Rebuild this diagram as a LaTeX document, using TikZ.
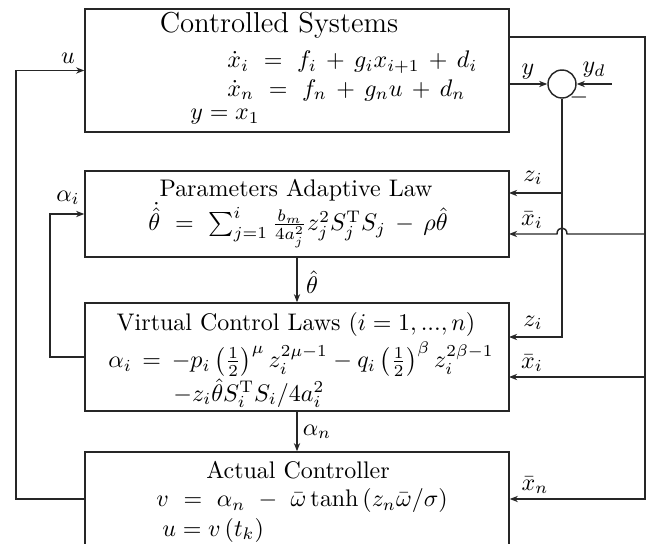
\documentclass[tikz,border=0pt]{standalone}
\usepackage{amsmath}
\usetikzlibrary{arrows.meta}
\begin{document}
\begin{tikzpicture}[x=0.4167pt,y=-0.4167pt,
  box/.style={draw=black!85, line width=0.6pt, minimum width=424*0.4167pt, inner sep=0pt},
  wire/.style={draw=black!85, line width=0.6pt},
  arr/.style={wire, -{Stealth[length=3.4pt,width=2.6pt]}},
  txt/.style={inner sep=0pt},
  lbl/.style={inner sep=0pt}]
\useasboundingbox (0,0) rectangle (654,544);

% blocks
\node[box, minimum height=123*0.4167pt] (sys) at (297,70.5) {};
\node[box, minimum height=86*0.4167pt]  (pal) at (297,214) {};
\node[box, minimum height=108*0.4167pt] (vcl) at (297,357) {};
\node[box, minimum height=104*0.4167pt] (act) at (297,504) {};
\node[draw=black!85, line width=0.6pt, circle, minimum size=28*0.4167pt, inner sep=0pt] (sum) at (562,84) {};

% block contents
\node[txt] (sysT) at (279,25) {\large Controlled Systems};
\node[txt, anchor=west] (sysA) at (227,62) {$\dot x_i \ =\ f_i \,+\, g_i x_{i+1} \,+\, d_i$};
\node[txt, anchor=west] (sysB) at (227,90) {$\dot x_n \ =\ f_n \,+\, g_n u \,+\, d_n$};
\node[txt, anchor=west] (sysC) at (190,117) {$y = x_1$};

\node[txt] (palT) at (296,190) {Parameters Adaptive Law};
\node[txt, anchor=west] (palA) at (148,225) {$\dot{\hat\theta}\ =\ \sum_{j=1}^{i}\frac{b_m}{4a_j^2}z_j^2S_j^{\mathrm{T}}S_j\,-\,\rho\hat\theta$};

\node[txt] (vclT) at (296,324) {Virtual Control Laws $(i=1,...,n)$};
\node[txt, anchor=west] (vclA) at (108,359) {$\alpha_i\,=\,-p_i\left(\frac{1}{2}\right)^{\mu}z_i^{2\mu-1}-q_i\left(\frac{1}{2}\right)^{\beta}z_i^{2\beta-1}$};
\node[txt, anchor=west] (vclB) at (173,393) {$-z_i\hat\theta S_i^{\mathrm{T}}S_i/4a_i^2$};

\node[txt] (actT) at (298,470) {Actual Controller};
\node[txt, anchor=west] (actA) at (156,501) {$v\ =\ \alpha_n\ -\ \bar\omega\tanh\left(z_n\bar\omega/\sigma\right)$};
\node[txt, anchor=west] (actB) at (162,530) {$u=v\left(t_k\right)$};

% free ends and bends of the connectors
\coordinate (uc) at (16,0);
\coordinate (ac) at (50,0);
\coordinate (s1) at (509,37);
\coordinate (rt) at (645,37);
\coordinate (rb) at (645,499);
\coordinate (ul) at (85,499);
\coordinate (r2) at (645,234);
\coordinate (p2) at (509,234);
\coordinate (r3) at (645,377);
\coordinate (p3) at (509,377);
\coordinate (yo) at (509,84);
\coordinate (yd) at (612,84);
\coordinate (zb) at (562,337);
\coordinate (z3) at (509,337);
\coordinate (zm) at (562,193);
\coordinate (z2) at (509,193);

% control signal u back to the plant
\draw[arr] (ul) -- (ul -| uc) -- (uc |- sys.west) -- (sys.west);
% virtual control alpha_i to the adaptive law
\draw[arr] (vcl.west) -- (vcl.west -| ac) -- (ac |- pal.west) -- (pal.west);
% state feedback bus on the right
\draw[arr] (s1) -- (rt) -- (rb) -- (rb -| act.east);
\draw[arr] (r2) -- (567,234) .. controls (567,226) and (557,226) .. (557,234) -- (p2);
\draw[arr] (r3) -- (p3);
% tracking error
\draw[arr] (yo) -- (sum.west);
\draw[arr] (yd) -- (sum.east);
\draw[arr] (sum.south) -- (zb) -- (z3);
\draw[arr] (zm) -- (z2);
% cascade
\draw[arr] (pal.south) -- (vcl.north);
\draw[arr] (vcl.south) -- (act.north);

% signal labels
\node[lbl] (lu)  at (68,58)  {$u$};
\node[lbl] (la)  at (68,198) {$\alpha_i$};
\node[lbl] (ly)  at (528,72) {$y$};
\node[lbl] (lyd) at (594,70) {$y_d$};
\node[lbl] (lm)  at (579,97) {$-$};
\node[lbl] (lz2) at (533,178) {$z_i$};
\node[lbl] (lx2) at (532,220) {$\bar x_i$};
\node[lbl] (lz3) at (533,323) {$z_i$};
\node[lbl] (lx3) at (532,363) {$\bar x_i$};
\node[lbl] (lxn) at (535,485) {$\bar x_n$};
\node[lbl] (lth) at (312,282) {$\hat\theta$};
\node[lbl] (lan) at (317,432) {$\alpha_n$};
\end{tikzpicture}
\end{document}
